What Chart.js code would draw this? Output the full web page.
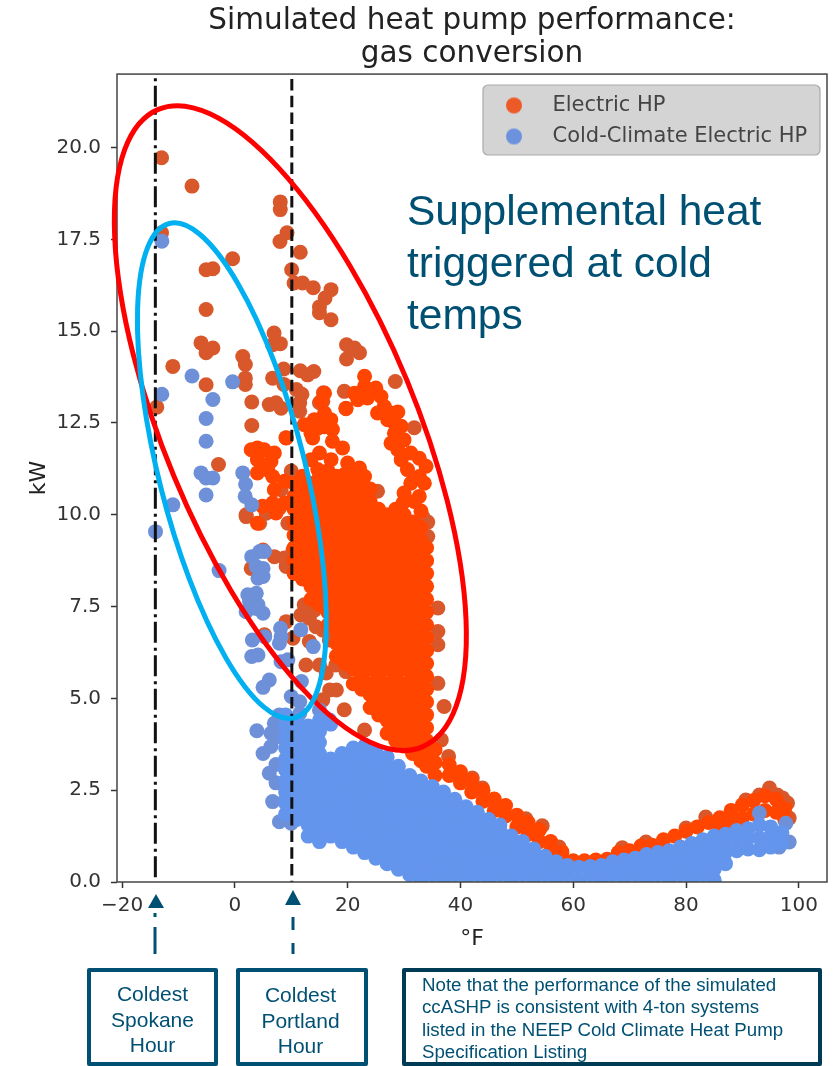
<!DOCTYPE html>
<html><head><meta charset="utf-8">
<script src="https://cdn.jsdelivr.net/npm/chart.js@4"></script>
<style>
html,body{margin:0;padding:0;background:#fff}
#wrap{position:relative;width:836px;height:1066px;overflow:hidden}
canvas{display:block;filter:blur(0.4px)}
.t{position:absolute;font-family:"Liberation Sans",Arial,sans-serif;color:#005073}
.big{left:407px;top:185px;font-size:42.5px;line-height:52px;white-space:pre}
.box{position:absolute;box-sizing:border-box;border:4px solid #005073;background:#fff;border-radius:2px}
.cap{font-size:21px;line-height:25.5px;text-align:center;white-space:pre}
.note{font-size:18.7px;line-height:22.3px;white-space:pre}
svg{position:absolute;left:0;top:0}
</style></head><body>
<div id="wrap">
<canvas id="c" width="836" height="1066"></canvas>
<svg width="836" height="1066">
<polygon points="156,894 148,908 164,908" fill="#005073"/>
<line x1="155" y1="913" x2="155" y2="954" stroke="#005073" stroke-width="3" stroke-dasharray="4 10 27 0"/>
<polygon points="293,890 285,905 301,905" fill="#005073"/>
<line x1="293" y1="917" x2="293" y2="954" stroke="#005073" stroke-width="3" stroke-dasharray="13 13 11 0"/>
</svg>
<div class="t big">Supplemental heat
triggered at cold
temps</div>
<div class="box" style="left:87px;top:968px;width:131px;height:98px"></div>
<div class="t cap" style="left:87px;top:981px;width:131px">Coldest
Spokane
Hour</div>
<div class="box" style="left:236px;top:968px;width:132px;height:98px"></div>
<div class="t cap" style="left:235px;top:982px;width:131px">Coldest
Portland
Hour</div>
<div class="box" style="left:402px;top:968px;width:420px;height:98px;border-color:#003b56"></div>
<div class="t note" style="left:422px;top:974px">Note that the performance of the simulated
ccASHP is consistent with 4-ton systems
listed in the NEEP Cold Climate Heat Pump
Specification Listing</div>
</div>
<script>
const chartTitle = ['Simulated heat pump performance:', 'gas conversion'];
const seriesNames = ['Electric HP', 'Cold-Climate Electric HP'];
const spokaneHour = -14.1;
const portlandHour = 10.1;
const xTicks = [-20, 0, 20, 40, 60, 80, 100];
const yTicks = [0, 2.5, 5, 7.5, 10, 12.5, 15, 17.5, 20];

// isolated Electric HP readings [°F, kW]
const electricLoose = [
[-13,19.72],[-7.6,18.95],[8.05,18.52],[8.05,18.31],[-13,17.68],[9.25,17.68],[8,17.44],[11.6,17.15],[-0.4,16.97],[-5.1,16.67],[-3.9,16.7],
[10.07,16.67],[10.5,16.31],[12,16.31],[13.9,16.18],[17.05,16.13],[16,15.9],[15,15.66],[15,15.5],[17.05,15.31],[-5.1,15.59],[6.95,14.95],
[8.07,14.66],[6.7,14.63],[-6,14.68],[-3.9,14.54],[-5.1,14.41],[19.8,14.63],[21.2,14.54],[22.1,14.41],[19.8,14.24],[1.4,14.31],[1.86,14.09],
[-11,14.04],[8.65,13.97],[11.6,13.92],[12.9,13.81],[14,13.9],[28.45,13.63],[1.86,13.72],[1.86,13.55],[-5.1,13.54],[6.7,13.72],[8.7,13.55],
[10.9,13.41],[11.9,13.28],[19.4,13.36],[15.7,13.32],[3,13.07],[6.1,13],[7.3,13.05],[8.2,12.9],[15,13.05],[15.6,13.09],[11.5,13.05],[11.5,12.82],
[19.7,12.89],[-13.85,12.93],[3,12.43],[9.07,12.1],[31.8,12.37],[-2.9,11.37],[10,11.19],[2,10],[4.4,9.77],[2,9.95],[8.2,10.68],[5.55,10.04],[7.9,10.18],
[9.4,9.77],[5,9.04],[7,8.86],[8.8,8.82],[9.1,8.59],[2.9,8.54],[10.3,9.04],[9.1,7.09],[5.25,6.73],[10.3,6.64],[13.2,6.55],[12.6,5.91],
[17.9,5.91],[19.7,5.73],[15,5.91],[18,5.23],[19.4,4.69],[16.8,5.23],[15.6,4.96],[23,4.14],[12.3,7.55],[11.7,7.27],[14.1,7.4],[15.6,6.86],[16.75,6.59],[16.2,5.69],
[13.2,7.18],[14.4,6.95],[36,7.46],[36,6.82],[36,6.46],[36,5.41],[37.1,4.78],[36.6,3.87],[37.9,3.42],[34.2,9.8],[33.3,9.95],[34.2,9.41],
[25.3,10.64],[42.1,2.83],[43.9,2.56],[51.6,1.72],[54.5,1.53],[57.5,.95],[68.7,.93],[72.9,1.09],[80,1.47],[83.5,1.77],[90.6,2.23],
[93,2.37],[94.8,2.56],[96.2,2.37],[97.1,2.29],[98,2.15],[98.3,1.74]];

// Electric HP ridge and clusters above the main mass [°F, kW]
const electricRidge = [
[23,13.77],[23,13.5],[25,13.45],[23.5,13.18],[25.9,13.22],[21.8,13.13],[26.5,12.95],[25.3,12.77],[27.7,12.77],[28.9,12.8],[28.3,12.5],[27.1,12.59],
[29.5,12.41],[28.3,12.22],[27.7,11.95],[28.9,11.77],[30,12.04],[31.2,11.68],[32.7,11.54],[33.9,11.32],[29.5,11.5],[30.6,11.23],[32.7,11.04],
[31.2,10.86],[33.6,10.86],[30,10.59],[32.7,10.5],[29.8,10.32],[31.8,10.36],[15.9,13.31],[15.3,13.09],[19.7,12.9],[21.2,13.31],[15.9,12.77],
[14.1,12.59],[17,12.59],[12.3,12.45],[14.7,12.36],[13.5,12.22],[17.3,12.32],[15.9,12.4],[13.8,12.09],[17.3,12],[19.1,11.82],[9.1,12.09],
[15,11.68],[13.5,11.5],[17.05,11.5],[20,11.41],[22.1,11.27],[23,11.04],[14.7,11.23],
[4,11.82],[2.9,11.77],[5.2,11.77],[7,11.68],[4,11.5],[6.4,11.45],[5.8,11.23],[4,11.14],[6.7,11.04],[7,10.68],[8.8,10.91],[6.7,10.32],[4.9,10.23],[7.3,10.05],[8.8,10.32],[4,9.77]];

// Electric HP main mass, read as temperature columns [°F, [kW...]]
const electricColumns = [
[10.5,[8.4,8.75,9.1,9.45,9.8,10.15,10.5,10.85]],
[12,[8.25,8.6,8.95,9.3,9.65,10,10.35,10.7,11.05]],
[13.5,[7.7,8.05,8.4,8.75,9.1,9.45,9.8,10.15,10.5,10.85]],
[15,[7.55,7.9,8.25,8.6,8.95,9.3,9.65,10,10.35,10.7,11.05]],
[16.5,[7,7.35,7.7,8.05,8.4,8.75,9.1,9.45,9.8,10.15,10.5,10.85,11.2]],
[18,[6.15,6.5,6.85,7.2,7.55,7.9,8.25,8.6,8.95,9.3,9.65,10,10.35,10.7,11.05]],
[19.5,[5.95,6.3,6.65,7,7.35,7.7,8.05,8.4,8.75,9.1,9.45,9.8,10.15,10.5,10.85,11.1]],
[21,[5.4,5.8,6.15,6.5,6.85,7.2,7.55,7.9,8.25,8.6,8.95,9.3,9.65,10,10.35,10.7,11.05]],
[22.5,[5.25,5.6,5.95,6.3,6.65,7,7.35,7.7,8.05,8.4,8.75,9.1,9.45,9.8,10.15,10.5,10.85]],
[24,[4.75,5.1,5.4,5.8,6.15,6.5,6.85,7.2,7.55,7.9,8.25,8.6,8.95,9.3,9.65,10,10.35,10.7]],
[25.5,[4.55,4.9,5.25,5.6,5.95,6.3,6.65,7,7.35,7.7,8.05,8.4,8.75,9.1,9.45,9.8,10.15]],
[27,[4.05,4.4,4.75,5.1,5.4,5.8,6.15,6.5,6.85,7.2,7.55,7.9,8.25,8.6,8.95,9.3,9.65,10]],
[28.5,[3.85,4.2,4.55,4.9,5.25,5.6,5.95,6.3,6.65,7,7.35,7.7,8.05,8.4,8.75,9.1,9.45,9.8,10.15]],
[30,[3.7,4.05,4.4,4.75,5.1,5.4,5.8,6.15,6.5,6.85,7.2,7.55,7.9,8.25,8.6,8.95,9.3,9.65,10]],
[31.5,[3.5,3.85,4.2,4.55,4.9,5.25,5.6,5.95,6.3,6.65,7,7.35,7.7,8.05,8.4,8.75,9.1,9.45,9.8]],
[33,[3.3,3.7,4.05,4.4,4.75,5.1,5.4,5.8,6.15,6.5,6.85,7.2,7.55,7.9,8.25,8.6,8.95,9.3,9.65,10.1]],
[34,[3.15,3.5,3.85,4.2,4.55,4.9,5.25,5.6,5.95,6.3,6.65,7,7.35,7.7,8.05,8.4,8.75,9.1]],
[35.5,[2.9,3.25,3.6]],
[38,[3.2,2.9]],[40,[3,2.7]],[42,[2.77,2.45]],[44,[2.5,2.2]],[46,[2.26,1.95]],[48,[2.08,1.8]],[50,[1.82,1.5]],[52,[1.62,1.3]],
[54,[1.42,1.1]],[56,[1.1,.85]],[58,[.82,.6]],[60,[.58]],[62,[.58]],[64,[.6]],[66,[.62]],[68,[.8]],[70,[.85]],[72,[.98]],[74,[1]],
[76,[1.15]],[78,[1.25]],[80,[1.38]],[82,[1.5]],[84,[1.62]],[86,[1.75,1.45]],[88,[1.95,1.6]],[90,[2.1,1.75]],[92,[2.22,1.85]],
[94,[2.35,1.95]],[96,[2.25,1.9]],[97.5,[2,1.7]]];

// isolated Cold-Climate readings [°F, kW]
const coldLoose = [
[-12.95,17.45],[-7.6,13.78],[-0.4,13.62],[-12.95,13.28],[-3.9,13.14],[-5.1,12.62],[-5.1,12],[-6,11.14],[-5.1,11],[-3.9,11],[1.4,11.14],[1.9,10.83],
[-14.07,9.54],[-11,10.27],[-5.1,10.54],[-2.8,8.48],[1.83,10.5],[3,10.27],[3,8.86],[4.4,9],[5.25,9],[3.8,8.59],[5,8.54],[4.1,8.27],[5,8.32],
[2.3,7.82],[3.8,7.86],[2.6,7.64],[4.1,7.55],[2,7.36],[5,7.32],[3.8,7.45],[8.1,6.91],[8.2,6.68],[11.7,6.87],[3.1,6.59],[5.3,6.68],[7.9,6.5],
[3,6.14],[4.1,6.18],[8.2,6],[9.4,6.05],[6.1,5.5],[5,5.3],[11.8,5.46],[13.9,6.41],[10,5.05],[11.5,4.91],[7.9,4.55],[7,4.32],[8.5,4.3],[3.9,4.12],
[11.5,4.59],[15,4.68],[16.8,4.41],[6.4,4.05],[8.2,3.95],[5,3.5],[6.4,3.69],[6.1,2.96],[6.7,2.19],[8.8,2.19],[7.9,1.64],[10,1.6],[7.3,3.2],[7.3,2.7],
[93,1.88],[97.7,1.6],[98.3,1.09],[96.5,.95]];

// Cold-Climate main mass, read as temperature columns [°F, [kW...]]
const coldColumns = [
[9,[1.85,2.15,2.45,2.75,3.05,3.35,3.65,3.95,4.25,4.55]],
[11,[1.7,2,2.3,2.6,2.9,3.2,3.5,3.8,4.1,4.4]],
[13,[1.25,1.55,1.85,2.15,2.45,2.75,3.05,3.35,3.65,3.95,4.25]],
[15,[1.1,1.4,1.7,2,2.3,2.6,2.9,3.2,3.5,3.8,4.1,4.4]],
[17,[1.25,1.55,1.85,2.15,2.45,2.75,3.05,3.35,4.3]],
[19,[1.1,1.4,1.7,2,2.3,2.6,2.9,3.2,3.5]],
[21,[.95,1.25,1.55,1.85,2.15,2.45,2.75,3.05,3.35,3.65]],
[23,[.8,1.1,1.4,1.7,2,2.3,2.6,2.9,3.2,3.5,3.7]],
[25,[.65,.95,1.25,1.55,1.85,2.15,2.45,2.75,3.05,3.35,3.55]],
[27,[.5,.8,1.1,1.4,1.7,2,2.3,2.6,2.9,3.2,3.4]],
[29,[.35,.65,.95,1.25,1.55,1.85,2.15,2.45,2.75,2.95,3.15]],
[31,[.2,.5,.8,1.1,1.4,1.7,2,2.3,2.6,2.9]],
[33,[.05,.35,.65,.95,1.25,1.55,1.85,2.15,2.45,2.75]],
[35,[.2,.5,.8,1.1,1.4,1.7,2,2.3,2.6]],
[37,[.05,.35,.65,.95,1.25,1.55,1.85,2.15,2.45]],
[39,[.2,.5,.8,1.1,1.4,1.7,2,2.25]],
[41,[.05,.35,.65,.95,1.25,1.55,1.85,2.05]],
[43,[.2,.5,.8,1.1,1.4,1.7,1.9]],
[45,[.05,.35,.65,.95,1.25,1.55,1.7]],
[47,[.2,.5,.8,1.1,1.4,1.55]],
[49,[.05,.35,.65,.95,1.25]],
[51,[.2,.5,.8,1.1]],
[53,[.05,.35,.65,.9]],
[55,[.2,.5,.7]],
[57,[.05,.35,.55]],
[59,[.2,.45]],
[61,[.05,.4]],
[63,[.2,.42]],
[65,[.05,.35,.45]],
[67,[.2,.5,.55]],
[69,[.05,.35,.6]],
[71,[.2,.5,.65]],
[73,[.05,.35,.65,.75]],
[75,[.2,.5,.8]],
[77,[.05,.35,.65,.85]],
[79,[.2,.5,.8,.95]],
[81,[.05,.35,.65,.95,1.05]],
[83,[.2,.5,.8,1.1,1.15]],
[85,[.05,.35,.65,.95,1.25]],
[87,[.5,.8,1.1,1.3]],
[89,[.85,1.15,1.4]],
[91,[.9,1.2,1.45]],
[93,[.88,1.2,1.55]],
[95,[.95,1.25,1.5]],
[97,[1.05,1.35]]];

const expand = cols => cols.flatMap(([x, ys]) => ys.map(y => ({x, y})));
const pts = list => list.map(([x, y]) => ({x, y}));
const ORANGE = '#ff4500', ORANGE_DULL = '#d8582c', BLUE = '#6495ed', BLUE_DULL = '#6e90d8';

function dot(color){
  const c = document.createElement('canvas'); c.width = c.height = 18;
  const g = c.getContext('2d'); g.fillStyle = color;
  g.beginPath(); g.arc(9,9,8,0,Math.PI*2); g.fill(); return c;
}
const scatter = (label,data,color) => ({label,data,type:'scatter',backgroundColor:color,borderColor:color,pointRadius:7.5,pointBorderWidth:0,pointHoverRadius:7.5,showLine:false});
const vline = (label,x,dash,off) => ({label,type:'scatter',showLine:true,data:[{x,y:22},{x,y:0}],borderColor:'#111',borderWidth:3,borderDash:dash,borderDashOffset:off,pointRadius:0,fill:false});

const overlay = {
  id:'overlay',
  afterLayout(chart){
    const l = chart.legend;
    l.left = 476; l.top = 85; l.right = 820; l.bottom = 220;
  },
  beforeDraw(chart){
    const g = chart.ctx; g.save();
    g.fillStyle = '#d4d4d4'; g.strokeStyle = '#aaaaaa'; g.lineWidth = 1.2;
    g.beginPath(); g.roundRect(483,85,337,70,5); g.fill(); g.stroke(); g.restore();
  },
  afterDatasetsDraw(chart){
    const g = chart.ctx, a = chart.chartArea, sx = chart.scales.x, sy = chart.scales.y;
    g.save();
    g.strokeStyle = '#444'; g.lineWidth = 1.5;
    g.strokeRect(a.left,a.top,a.width,a.height);
    g.lineWidth = 5;
    g.strokeStyle = '#ff0000';
    g.beginPath(); g.ellipse(sx.getPixelForValue(9.84),sy.getPixelForValue(12.36),126,345,-22.5*Math.PI/180,0,Math.PI*2); g.stroke();
    g.strokeStyle = '#00b0f0';
    g.beginPath(); g.ellipse(sx.getPixelForValue(-0.53),sy.getPixelForValue(11.2),73,255,-14.2*Math.PI/180,0,Math.PI*2); g.stroke();
    g.restore();
  }
};

new Chart(document.getElementById('c'),{
  type:'scatter',
  data:{datasets:[
    vline('Spokane',spokaneHour,[21,5,3,4.5],21.8),
    vline('Portland',portlandHour,[11.5,5.2],11.7),
    scatter(seriesNames[1]+' mass',expand(coldColumns),BLUE),
    scatter(seriesNames[1],pts(coldLoose),BLUE_DULL),
    scatter(seriesNames[0]+' mass',expand(electricColumns).concat(pts(electricRidge)),ORANGE),
    scatter(seriesNames[0],pts(electricLoose),ORANGE_DULL)
  ]},
  plugins:[overlay],
  options:{
    responsive:false,animation:false,
    layout:{padding:{left:26,right:9,top:0,bottom:114}},
    plugins:{
      tooltip:{enabled:false},
      title:{display:true,text:chartTitle,fullSize:false,color:'#222',font:{family:'"DejaVu Sans"',size:29.5,weight:'normal',lineHeight:1.12},padding:{top:5,bottom:3}},
      legend:{position:'chartArea',align:'start',onClick:null,labels:{
        usePointStyle:true,pointStyleWidth:56,boxHeight:12,padding:10,color:'#444',
        font:{family:'"DejaVu Sans"',size:21,lineHeight:1.15},
        generateLabels:()=>[
          {text:seriesNames[0],pointStyle:dot('#ec5a28'),fontColor:'#444',lineWidth:0,strokeStyle:'transparent',fillStyle:'transparent',datasetIndex:5},
          {text:seriesNames[1],pointStyle:dot('#6c92de'),fontColor:'#444',lineWidth:0,strokeStyle:'transparent',fillStyle:'transparent',datasetIndex:3}
        ]
      }}
    },
    scales:{
      x:{type:'linear',min:-20.9,max:105,
        afterFit:s=>{s.height=70},
        afterBuildTicks:s=>{s.ticks=xTicks.map(value=>({value}))},
        grid:{display:true,drawOnChartArea:false,drawTicks:true,tickLength:6,tickColor:'#333',tickWidth:1.5},
        border:{display:false},
        ticks:{color:'#333',padding:6,maxRotation:0,font:{family:'"DejaVu Sans"',size:20},callback:v=>String(v).replace('-','\u2212')},
        title:{display:true,text:'°F',color:'#222',font:{family:'"DejaVu Sans"',size:22},padding:0}
      },
      y:{type:'linear',min:0,max:22,
        afterFit:s=>{s.width=91},
        afterBuildTicks:s=>{s.ticks=yTicks.map(value=>({value}))},
        grid:{display:true,drawOnChartArea:false,drawTicks:true,tickLength:6,tickColor:'#333',tickWidth:1.5},
        border:{display:false},
        ticks:{color:'#333',padding:10,font:{family:'"DejaVu Sans"',size:20},callback:v=>v.toFixed(1)},
        title:{display:true,text:'kW',color:'#222',font:{family:'"DejaVu Sans"',size:22},padding:0}
      }
    }
  }
});
</script>
</body></html>
